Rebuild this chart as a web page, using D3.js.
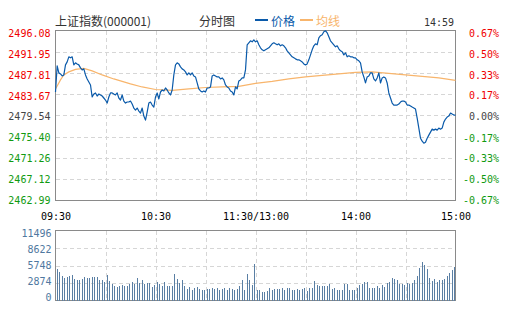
<!DOCTYPE html>
<html><head><meta charset="utf-8">
<script src="https://cdn.jsdelivr.net/npm/d3@7"></script>
<style>body{margin:0;background:#fff}svg{display:block}</style>
</head><body>
<svg id="c" width="505" height="330"></svg>
<script>
// ---------- data ----------
const title = "上证指数(000001)";
const chartName = "分时图";
const legendNames = ["价格", "均线"];
const lastTime = "14:59";

const prevClose = 2479.54;
const priceTicks = [2496.08, 2491.95, 2487.81, 2483.67, 2479.54, 2475.40, 2471.26, 2467.12, 2462.99];
const pctTicks = [0.67, 0.50, 0.33, 0.17, 0.00, -0.17, -0.33, -0.50, -0.67];
const timeTickMinutes = [0, 60, 120, 180, 240];
const timeTickLabels = ["09:30", "10:30", "11:30/13:00", "14:00", "15:00"];
const volTicks = [11496, 8622, 5748, 2874, 0];

// price per minute (241 minutes, 09:30..11:30 + 13:00..15:00)
const price = [
2484.11,2489.19,2487.83,2487.63,2487.24,2487.43,2489.39,2489.97,2490.95,2490.76,
2490.95,2489.39,2489.78,2489.58,2489.39,2488.80,2488.41,2488.61,2487.43,2486.65,
2486.07,2485.48,2483.14,2483.72,2483.92,2483.33,2483.72,2483.53,2483.33,2482.94,
2482.55,2481.96,2483.14,2483.92,2483.92,2483.72,2483.53,2483.92,2482.94,2482.55,
2483.53,2482.35,2481.96,2482.16,2482.16,2482.35,2481.77,2480.99,2480.60,2480.99,
2480.40,2480.01,2480.99,2479.42,2478.64,2480.20,2481.96,2482.16,2481.57,2481.18,
2483.14,2483.92,2482.75,2484.11,2484.50,2484.31,2484.89,2484.50,2483.92,2483.53,
2484.50,2487.43,2489.39,2489.78,2489.58,2489.00,2488.61,2488.41,2488.02,2487.43,
2487.83,2487.43,2487.83,2487.24,2487.04,2485.87,2484.70,2484.31,2484.11,2484.31,
2484.11,2484.89,2484.89,2485.09,2487.24,2487.43,2487.24,2487.04,2487.04,2486.65,
2486.85,2486.46,2485.48,2485.09,2484.89,2484.31,2484.11,2483.53,2485.09,2484.70,
2486.26,2486.46,2486.85,2486.85,2488.41,2493.30,2493.69,2494.08,2493.88,2494.27,
2493.88,2494.08,2493.30,2492.71,2492.32,2492.12,2492.32,2492.52,2492.71,2493.10,
2493.49,2493.69,2493.49,2493.30,2493.49,2493.10,2493.30,2493.10,2492.71,2492.12,
2491.73,2491.34,2490.95,2490.76,2490.56,2490.37,2490.37,2490.17,2489.97,2489.58,
2489.39,2489.58,2490.37,2491.34,2492.32,2493.10,2493.49,2493.30,2494.66,2495.06,
2495.25,2495.84,2496.03,2495.64,2494.86,2494.08,2493.69,2493.30,2492.91,2493.10,
2492.52,2492.12,2491.93,2491.34,2491.73,2490.95,2491.15,2490.95,2490.95,2490.76,
2490.76,2490.37,2490.17,2489.78,2488.02,2487.04,2485.87,2487.04,2487.24,2487.83,
2487.83,2486.65,2486.26,2486.85,2487.83,2485.87,2486.85,2487.04,2486.85,2485.87,
2483.92,2482.94,2481.96,2481.57,2481.57,2481.57,2481.77,2482.16,2482.35,2482.35,
2482.16,2481.57,2481.57,2481.38,2481.18,2480.99,2480.79,2479.03,2477.08,2475.12,
2474.54,2474.15,2474.34,2475.12,2475.71,2476.30,2476.88,2476.69,2476.88,2476.69,
2477.08,2476.88,2477.08,2478.25,2478.84,2479.23,2479.42,2480.01,2479.81,2479.62,
2479.62
];

// average-price line, read at these minutes
const avgMinutes = [0,3,5,8,12,17,22,28,35,45,52,60,70,80,90,100,110,120,130,140,150,160,170,180,190,200,210,220,230,240];
const avgPrice = [2484.70,2486.46,2487.43,2488.02,2488.51,2488.70,2488.22,2487.43,2486.65,2485.68,2485.09,2484.60,2484.41,2484.70,2484.99,2485.09,2485.19,2485.77,2486.16,2486.65,2487.04,2487.34,2487.63,2487.92,2488.02,2487.73,2487.43,2487.14,2486.85,2486.36];

// volume bars (evenly spaced across the session)
const volume = [
5140,4700,3980,3760,3830,3980,4260,3480,3320,3320,
3480,3815,3760,3700,3930,3930,3930,3320,3320,3040,
4150,3200,2650,2440,2210,2380,2600,2380,2320,2650,
3100,2760,3760,2870,3320,2760,2870,2930,2210,2540,
2980,2650,2320,2980,2320,2320,2320,4370,3590,2870,
3320,2440,1940,2160,1780,2100,2210,1830,1780,1660,
1830,1830,2100,1940,2100,1660,1830,2100,1780,2100,
1940,1660,1940,2320,3320,1660,4310,3400,2490,5970,
1660,1660,1380,1380,1600,2100,1780,1830,1900,1830,
1990,1660,1990,1990,1660,1660,1940,1660,1830,2100,
1550,1990,1990,3150,2490,2440,2440,2440,2440,2650,
1830,2100,1780,1780,1780,2650,2650,1780,1660,1780,
2100,2540,2760,2980,2980,1990,2100,2100,2320,2100,
2490,2210,2870,3100,3760,3480,3320,2650,2760,2540,
2870,2650,2870,3430,3980,5360,6300,5800,5140,3700,
3200,3590,3040,3320,3320,3590,3980,4530,5090,5530
];

// ---------- drawing ----------
const svg = d3.select("#c");
const L = 55.5, R = 455.5;
const PT = 30.5, PB = 200.5;   // price panel
const VT = 230.5, VB = 300.5;  // volume panel

const monoFont = "'DejaVu Sans Mono', monospace";
const cjkFont = "'Noto Sans CJK SC', sans-serif";
const fs = 10;
const red = "#f00000", green = "#109a10", grey = "#444";
const blue = "#0a5aaa", orange = "#f8b56c";
const gridColor = "#d6d6d6", frameColor = "#8a8a8a";
const volColor = "#5a7fa4", volText = "#4f78a0";

const x = d3.scaleLinear().domain([0, 240]).range([L, R]);
const y = d3.scaleLinear().domain([priceTicks[8], priceTicks[0]]).range([PB, PT]);
const yLab = d3.scaleLinear().domain([priceTicks[8], priceTicks[0]]).range([203.5, 36.3]);
const yPct = d3.scaleLinear().domain([pctTicks[8], pctTicks[0]]).range([203.5, 36.3]);
const yv = d3.scaleLinear().domain([0, volTicks[0]]).range([VB, VT]);
const yvLab = d3.scaleLinear().domain([0, volTicks[0]]).range([300.2, 236.7]);

// header
svg.append("text").attr("x", 55).attr("y", 26).attr("font-family", cjkFont)
  .attr("font-size", 12).attr("fill", "#333").text(title);
svg.append("text").attr("x", 199).attr("y", 26).attr("font-family", cjkFont)
  .attr("font-size", 12).attr("fill", "#333").text(chartName);
[[255, blue], [300, orange]].forEach(([lx, c], i) => {
  svg.append("line").attr("x1", lx).attr("x2", lx + 13).attr("y1", 20).attr("y2", 20)
    .attr("stroke", c).attr("stroke-width", 2);
  svg.append("text").attr("x", lx + 16).attr("y", 26).attr("font-family", cjkFont)
    .attr("font-size", 12).attr("fill", c).text(legendNames[i]);
});
svg.append("text").attr("x", 454).attr("y", 26).attr("text-anchor", "end")
  .attr("font-family", monoFont).attr("font-size", fs).attr("fill", "#333").text(lastTime);

// grids
function grid(top, bottom, yVals, yScale) {
  const g = svg.append("g").attr("stroke", gridColor).attr("stroke-dasharray", "4,3")
    .attr("shape-rendering", "crispEdges");
  g.selectAll("line.h").data(yVals).join("line")
    .attr("x1", L).attr("x2", R).attr("y1", d => Math.round(yScale(d)) + 0.5)
    .attr("y2", d => Math.round(yScale(d)) + 0.5);
  g.selectAll("line.v").data(d3.range(30, 240, 30)).join("line")
    .attr("y1", top).attr("y2", bottom).attr("x1", d => Math.round(x(d)) + 0.5)
    .attr("x2", d => Math.round(x(d)) + 0.5);
  svg.append("rect").attr("x", L).attr("y", top).attr("width", R - L).attr("height", bottom - top)
    .attr("fill", "none").attr("stroke", frameColor).attr("shape-rendering", "crispEdges");
}
grid(PT, PB, priceTicks.slice(1, 8), y);
grid(VT, VB, volTicks.slice(1, 4), yv);

// price axis labels
const colorFor = v => v > prevClose + 0.001 ? red : (v < prevClose - 0.001 ? green : grey);
const lAxis = svg.append("g").attr("transform", "translate(50.5,0)")
  .call(d3.axisLeft(yLab).tickValues(priceTicks).tickFormat(d => d.toFixed(2)).tickSize(0).tickPadding(0));
lAxis.select(".domain").remove();
lAxis.selectAll("text").attr("dy", 0).attr("font-family", monoFont).attr("font-size", fs)
  .attr("fill", d => colorFor(d));

const rAxis = svg.append("g").attr("transform", "translate(499,0)")
  .call(d3.axisLeft(yPct).tickValues(pctTicks).tickFormat(d => d.toFixed(2) + "%").tickSize(0).tickPadding(0));
rAxis.select(".domain").remove();
rAxis.selectAll("text").attr("dy", 0).attr("font-family", monoFont).attr("font-size", fs)
  .attr("fill", d => d > 0 ? red : (d < 0 ? green : grey));

// time axis
const tAxis = svg.append("g").attr("transform", "translate(0,220)")
  .call(d3.axisBottom(x).tickValues(timeTickMinutes).tickFormat((d, i) => timeTickLabels[i]).tickSize(0).tickPadding(0));
tAxis.select(".domain").remove();
tAxis.selectAll("text").attr("dy", 0).attr("font-family", monoFont).attr("font-size", fs).attr("fill", "#000");

// volume axis
const vAxis = svg.append("g").attr("transform", "translate(51.5,0)")
  .call(d3.axisLeft(yvLab).tickValues(volTicks).tickFormat(d => String(d)).tickSize(0).tickPadding(0));
vAxis.select(".domain").remove();
vAxis.selectAll("text").attr("dy", 0).attr("font-family", monoFont).attr("font-size", fs).attr("fill", volText);

// average line
svg.append("path").datum(avgMinutes.map((m, i) => [m, avgPrice[i]]))
  .attr("fill", "none").attr("stroke", orange).attr("stroke-width", 1.2)
  .attr("d", d3.line().x(d => x(d[0])).y(d => y(d[1])));

// price line
svg.append("path").datum(price)
  .attr("fill", "none").attr("stroke", blue).attr("stroke-width", 1.2).attr("stroke-linejoin", "round")
  .attr("d", d3.line().x((d, i) => x(i)).y(d => y(d)));

// volume bars
const xb = d3.scaleBand().domain(d3.range(volume.length)).range([L, R]);
svg.append("g").attr("fill", volColor).attr("shape-rendering", "crispEdges")
  .selectAll("rect").data(volume).join("rect")
  .attr("x", (d, i) => Math.floor(xb(i) + 1.6))
  .attr("width", 1)
  .attr("y", d => yv(d))
  .attr("height", d => VB - yv(d));
</script>
</body></html>
